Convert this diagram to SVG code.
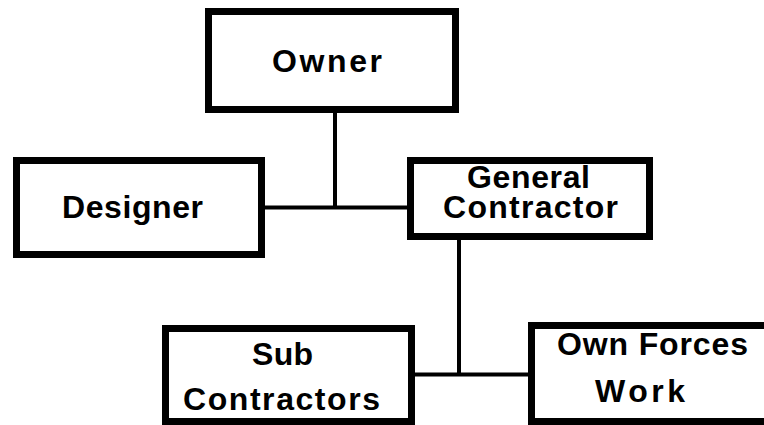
<svg xmlns="http://www.w3.org/2000/svg" width="764" height="425" viewBox="0 0 764 425">
<style>
.box{fill:#fff;stroke:#000;stroke-width:7}
.lbl{font-family:"Liberation Sans",Arial,sans-serif;font-size:32px;font-weight:bold;fill:#000;text-anchor:middle}
.conn{stroke:#000;stroke-width:4;fill:none}
</style>
<rect width="764" height="425" fill="#fff"/>
<g id="connectors">
<line class="conn" x1="335" y1="112" x2="335" y2="207.5"/>
<line class="conn" x1="264" y1="207.5" x2="408" y2="207.5"/>
<line class="conn" x1="459" y1="239" x2="459" y2="374.5"/>
<line class="conn" x1="414" y1="374.5" x2="529" y2="374.5"/>
</g>
<g id="owner">
<rect class="box" x="208.5" y="11.5" width="247" height="98"/>
<text class="lbl" x="327" y="72" textLength="110" lengthAdjust="spacing">Owner</text>
</g>
<g id="designer">
<rect class="box" x="16.5" y="160.5" width="245" height="94"/>
<text class="lbl" x="132.5" y="218" textLength="141" lengthAdjust="spacing">Designer</text>
</g>
<g id="general-contractor">
<rect class="box" x="410.5" y="160.5" width="239" height="76"/>
<text class="lbl" x="528.5" y="188" textLength="123" lengthAdjust="spacing">General</text>
<text class="lbl" x="530.5" y="218" textLength="175" lengthAdjust="spacing">Contractor</text>
</g>
<g id="sub-contractors">
<rect class="box" x="165.5" y="328.5" width="246" height="93"/>
<text class="lbl" x="282.5" y="365" textLength="61" lengthAdjust="spacing">Sub</text>
<text class="lbl" x="281.5" y="410" textLength="197" lengthAdjust="spacing">Contractors</text>
</g>
<g id="own-forces-work">
<rect class="box" x="531.5" y="325.5" width="262" height="96"/>
<text class="lbl" x="652.5" y="355" textLength="191" lengthAdjust="spacing">Own Forces</text>
<text class="lbl" x="640" y="402" textLength="90" lengthAdjust="spacing">Work</text>
</g>
</svg>
